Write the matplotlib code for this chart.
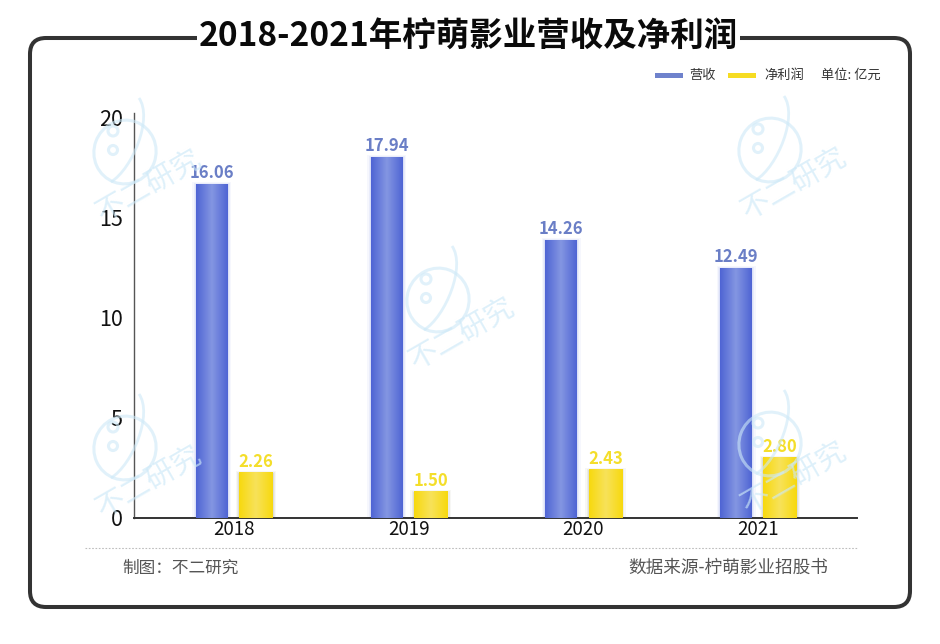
import numpy as np
import matplotlib
matplotlib.use("Agg")
import matplotlib.pyplot as plt
from matplotlib.patches import FancyBboxPatch, Rectangle, Ellipse, Circle, PathPatch
from matplotlib.path import Path
from matplotlib.colors import LinearSegmentedColormap

plt.rcParams['font.family'] = ['Noto Sans CJK SC', 'DejaVu Sans']

years = ['2018', '2019', '2020', '2021']
revenue_labels = ['16.06', '17.94', '14.26', '12.49']
profit_labels = ['2.26', '1.50', '2.43', '2.80']
# heights as the bars are actually drawn against the reference's axis
revenue_heights = [16.7, 18.05, 13.9, 12.5]
profit_heights = [2.25, 1.3, 2.4, 3.0]
y_ticks = [0, 5, 10, 15, 20]

W, H = 940, 644
fig = plt.figure(figsize=(W / 100, H / 100), dpi=100, facecolor='white')


def px_rect(l, t, r, b):
    return [l / W, 1 - b / H, (r - l) / W, (b - t) / H]


ax = fig.add_axes(px_rect(134, 113, 857, 518))
ax.set_facecolor('none')
ax.set_xlim(-0.572, 3.566)
ax.set_ylim(0, 20.25)

blue_cmap = LinearSegmentedColormap.from_list('b', ['#4F65D4', '#8496E2', '#4F65D4'])
yellow_cmap = LinearSegmentedColormap.from_list('y', ['#F7D90E', '#F8E25A', '#F7D90E'])
grad = np.linspace(0, 1, 64).reshape(1, -1)


def gradient_bars(xs, heights, width, cmap, glow):
    for spread, alpha in [(0.020, 0.08), (0.012, 0.12), (0.006, 0.16)]:
        ax.bar(xs, np.array(heights) + spread * 4, width=width + spread * 2, color=glow,
               alpha=alpha, linewidth=0, zorder=2)
    bars = ax.bar(xs, heights, width=width, color='none', linewidth=0, zorder=3)
    for r in bars:
        ax.imshow(grad, cmap=cmap, aspect='auto', zorder=3,
                  extent=(r.get_x(), r.get_x() + r.get_width(), 0, r.get_height()))
    ax.set_xlim(-0.572, 3.566)
    ax.set_ylim(0, 20.25)


idx = np.arange(len(years))
gradient_bars(idx - 0.126, revenue_heights, 0.183, blue_cmap, '#8FA0E8')
gradient_bars(idx + 0.126, profit_heights, 0.192, yellow_cmap, '#9A9A80')

for i in idx:
    ax.text(i - 0.126, revenue_heights[i] + 0.12, revenue_labels[i], ha='center', va='bottom',
            fontsize=12, fontweight='bold', color='#6A7EC6', zorder=6)
    ax.text(i + 0.126, profit_heights[i] + 0.12, profit_labels[i], ha='center', va='bottom',
            fontsize=12, fontweight='bold', color='#F4DE2A', zorder=6)

ax.set_xticks(idx, years)
ax.set_yticks(y_ticks)
ax.tick_params(axis='both', length=0)
ax.tick_params(axis='x', labelsize=13.5, pad=1, colors='#111111')
ax.tick_params(axis='y', labelsize=15.5, pad=8, colors='#111111')
for s in ['top', 'right']:
    ax.spines[s].set_visible(False)
ax.spines['left'].set_color('#555555')
ax.spines['left'].set_linewidth(1.0)
ax.spines['bottom'].set_color('#333333')
ax.spines['bottom'].set_linewidth(1.4)

# Overlay in pixel coordinates for the frame, watermark, legend and footer
ov = fig.add_axes([0, 0, 1, 1], zorder=5)
ov.set_xlim(0, W)
ov.set_ylim(H, 0)
ov.axis('off')
ov.patch.set_alpha(0)

ov.add_patch(FancyBboxPatch((30, 38), 880, 569, boxstyle='round,pad=0,rounding_size=16',
                            fc='none', ec='#333333', lw=2.9, zorder=1))
ov.add_patch(Rectangle((197, 25), 543, 25, fc='white', ec='none', zorder=2))
ov.text(468, 36, '2018-2021年柠萌影业营收及净利润', ha='center', va='center',
        fontsize=24.1, fontweight='bold', color='#0A0A0A', zorder=3)

# Legend
ov.add_patch(Rectangle((655, 72.5), 28, 5, fc='#6F82CC', ec='none'))
ov.add_patch(Rectangle((728, 72.5), 28, 5, fc='#F6DC22', ec='none'))
ov.text(689, 75, '营收', fontsize=9.5, va='center', color='#333333')
ov.text(764, 75, '净利润', fontsize=9.5, va='center', color='#333333')
ov.text(821, 75, '单位: 亿元', fontsize=9.5, va='center', color='#333333')

# Footer
ov.plot([85, 857], [548, 548], color='#BDBDBD', lw=0.8, ls=(0, (1.5, 1.5)))
ov.text(122, 568, '制图：不二研究', fontsize=12, va='center', color='#555555')
ov.text(828, 568, '数据来源-柠萌影业招股书', fontsize=12.7, va='center', ha='right', color='#555555')

# Watermark
wm = '#CDE9F8'


def watermark(cx, cy):
    ov.add_patch(Ellipse((cx, cy + 4), 62, 64, angle=20, fc='none', ec=wm, lw=2.2, alpha=0.6, zorder=5))
    tail = Path([(cx - 14, cy + 34), (cx + 8, cy + 20), (cx + 28, cy - 30), (cx + 14, cy - 50)],
                [Path.MOVETO, Path.CURVE4, Path.CURVE4, Path.CURVE4])
    ov.add_patch(PathPatch(tail, fc='none', ec=wm, lw=2.0, alpha=0.6, zorder=5))
    ov.add_patch(Circle((cx - 12, cy - 17), 5, fc='none', ec=wm, lw=2.2, alpha=0.6, zorder=5))
    ov.add_patch(Circle((cx - 12, cy + 2), 4.5, fc='none', ec=wm, lw=2.2, alpha=0.6, zorder=5))
    ov.text(cx + 24, cy + 38, '不二研究', rotation=30, ha='center', va='center',
            fontsize=21, color=wm, alpha=0.65, rotation_mode='anchor', zorder=5)


for c in [(125, 148), (438, 296), (770, 146), (125, 444), (770, 440)]:
    watermark(*c)

fig.savefig('out.png', dpi=100, facecolor='white')
